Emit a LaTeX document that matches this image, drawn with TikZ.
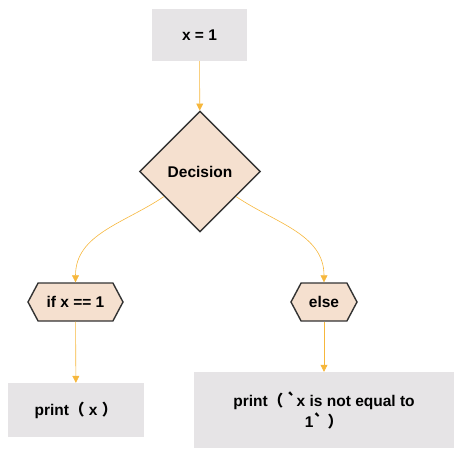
\documentclass[tikz,border=0pt]{standalone}
\usepackage{fontspec}
\setmainfont{Liberation Sans}
\newfontfamily\cjk{Noto Sans CJK SC}
\definecolor{boxgray}{RGB}{230, 228, 230}
\definecolor{peach}{RGB}{245, 224, 207}
\definecolor{edgedark}{RGB}{51, 51, 51}
\definecolor{flow}{RGB}{246, 183, 60}
\usetikzlibrary{shapes.geometric, shapes.symbols, arrows.meta, calc}

\tikzset{
  txt/.style={font=\fontsize{15.5}{21}\selectfont\bfseries, text=black},
  procbox/.style={txt, fill=boxgray, inner sep=0pt, align=center},
  decbox/.style={txt, diamond, aspect=1, draw=edgedark, line width=1.4pt, fill=peach, minimum size=121pt, inner sep=0pt},
  casebox/.style={txt, signal, signal to=east and west, signal pointer angle=124, draw=edgedark, line width=1.4pt, fill=peach, minimum height=38pt, inner sep=0pt},
  flowline/.style={draw=flow, line width=0.6pt, -{Triangle[width=7pt,length=7pt]}}
}

\begin{document}
\begin{tikzpicture}[x=1pt, y=1pt]
  \useasboundingbox (0,0) rectangle (462,-458);

  % nodes
  \node[procbox, minimum width=95pt, minimum height=52pt] (start) at (199.5,-35) {x = 1};
  \node[decbox] (decision) at (200,-171.5) {Decision};
  \node[casebox, minimum width=95pt] (ifcase) at (75.5,-302) {if x == 1};
  \node[casebox, minimum width=66pt] (elsecase) at (324,-302) {else};
  \node[procbox, minimum width=136pt, minimum height=54pt] (printx) at (76,-410) {print{\cjk （} x {\cjk ）}};
  \node[procbox, minimum width=260pt, minimum height=76pt] (printne) at (324,-410)
    {print{\cjk （ }{\cjk\symbol{96}}x is not equal to\\1{\cjk\symbol{96}} {\cjk ）}};

  % connectors
  \draw[flowline] (start) -- (decision);
  \draw[flowline] ($(decision.west)!0.41!(decision.south)$) to[out=214, in=90] (ifcase.north);
  \draw[flowline] ($(decision.east)!0.41!(decision.south)$) to[out=-34, in=90] (elsecase.north);
  \draw[flowline] (ifcase) -- (printx);
  \draw[flowline] (elsecase.south) -- (elsecase.south |- printne.north);
\end{tikzpicture}
\end{document}
